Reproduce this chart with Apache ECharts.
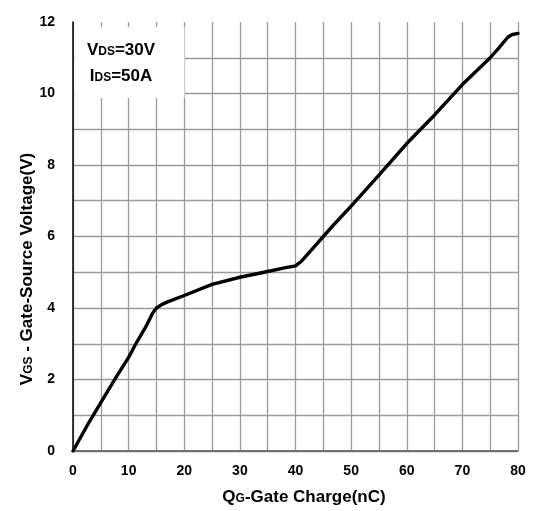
<!DOCTYPE html>
<html><head><meta charset="utf-8">
<script src="https://cdn.jsdelivr.net/npm/echarts@6/dist/echarts.min.js"></script>
<style>html,body{margin:0;padding:0;background:#fff}#c{width:533px;height:511px}</style>
</head><body><div id="c"></div>
<script>
const qg = [0, 2.5, 5, 7.7, 10, 11.3, 13, 14.3, 15, 16, 17, 20, 25, 30, 35, 38, 40, 41, 43, 45, 47, 50, 55, 60, 65, 70, 75, 76.7, 78.2, 79, 80];
const vgs = [0, 0.7, 1.35, 2.05, 2.62, 3.0, 3.45, 3.85, 4.0, 4.1, 4.17, 4.35, 4.66, 4.86, 5.02, 5.12, 5.18, 5.3, 5.65, 6.0, 6.35, 6.85, 7.72, 8.6, 9.4, 10.25, 11.0, 11.3, 11.58, 11.65, 11.68];
const xTickLabels = [0, 10, 20, 30, 40, 50, 60, 70, 80];
const yTickLabels = [0, 2, 4, 6, 8, 10, 12];

const font = "'Liberation Sans', Arial, sans-serif";
const chart = echarts.init(document.getElementById('c'));
const gridColors = [];
for (let i = 0; i <= 12; i++) gridColors.push(i === 12 ? 'rgba(0,0,0,0)' : '#9a9a9a');

function rich(big, small) {
  return {
    b: { fontFamily: font, fontWeight: 'bold', fontSize: big, fill: '#000' },
    s: { fontFamily: font, fontWeight: 'bold', fontSize: small, fill: '#000', padding: [3, 0, 0, 0] }
  };
}

chart.setOption({
  animation: false,
  grid: { left: 73, right: 15, top: 22, bottom: 60 },
  xAxis: {
    type: 'value', min: 0, max: 80, interval: 5,
    axisLine: { show: true, lineStyle: { color: '#555', width: 1.5 } },
    axisTick: { show: false },
    splitLine: { show: true, lineStyle: { color: '#9a9a9a', width: 1.3 } },
    axisLabel: {
      margin: 13, color: '#000', fontFamily: font, fontWeight: 'bold', fontSize: 14,
      formatter: v => xTickLabels.indexOf(v) >= 0 ? String(v) : ''
    }
  },
  yAxis: {
    type: 'value', min: 0, max: 12, interval: 1,
    axisLine: { show: true, lineStyle: { color: '#000', width: 1.5 } },
    axisTick: { show: false },
    splitLine: { show: true, lineStyle: { color: gridColors, width: 1.3 } },
    axisLabel: {
      margin: 18, color: '#000', fontFamily: font, fontWeight: 'bold', fontSize: 14,
      formatter: v => yTickLabels.indexOf(v) >= 0 ? String(v) : ''
    }
  },
  series: [{
    type: 'line', data: qg.map((x, i) => [x, vgs[i]]),
    showSymbol: false, smooth: false,
    lineStyle: { color: '#000', width: 3.4, join: 'round', cap: 'round' }
  }],
  graphic: [
    { type: 'rect', shape: { x: 74.5, y: 27, width: 110, height: 71 }, style: { fill: '#fff' }, z: 10 },
    { type: 'text', x: 121, y: 50, z: 11, style: {
        text: '{b|V}{s|DS}{b|=30V}', align: 'center', verticalAlign: 'middle', rich: rich(17, 12) } },
    { type: 'text', x: 121, y: 76, z: 11, style: {
        text: '{b|I}{s|DS}{b|=50A}', align: 'center', verticalAlign: 'middle', rich: rich(17, 12) } },
    { type: 'text', x: 304, y: 497, z: 11, style: {
        text: '{b|Q}{s|G}{b|-Gate Charge(nC)}', align: 'center', verticalAlign: 'middle', rich: rich(17, 12) } },
    { type: 'text', x: 27, y: 269, rotation: Math.PI / 2, z: 11, style: {
        text: '{b|V}{s|GS}{b| - Gate-Source Voltage(V)}', align: 'center', verticalAlign: 'middle', rich: rich(17, 12) } }
  ]
});
</script></body></html>
